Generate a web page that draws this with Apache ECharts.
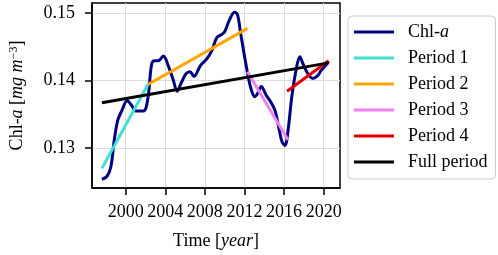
<!DOCTYPE html>
<html>
<head>
<meta charset="utf-8">
<script src="https://cdn.jsdelivr.net/npm/echarts@6/dist/echarts.min.js"></script>
<style>
  html, body { margin: 0; padding: 0; background: #fff; }
  #chart { width: 498px; height: 255px; }
</style>
</head>
<body>
<div id="chart"></div>
<script>
// chl-a series
var years = [1997.6, 1998.1, 1998.5, 1998.85, 1999.2, 1999.6, 2000.15, 2000.65, 2001.0, 2001.8,
  2002.25, 2002.6, 2002.9, 2003.3, 2003.8, 2004.3, 2004.8, 2005.2, 2005.6, 2006.1,
  2006.5, 2006.9, 2007.55, 2008.2, 2008.7, 2009.2, 2009.7, 2010.0, 2010.5, 2011.0,
  2011.3, 2011.6, 2012.1, 2012.6, 2013.05, 2013.3, 2013.7, 2014.2, 2014.7, 2015.1,
  2015.5, 2015.8, 2016.1, 2016.4, 2016.8, 2017.3, 2017.6, 2017.9, 2018.4, 2018.9,
  2019.4, 2019.7, 2020.2, 2020.5];
var chl = [0.1254, 0.1258, 0.1272, 0.1312, 0.1341, 0.1355, 0.1370, 0.1362, 0.1355, 0.1355,
  0.1374, 0.1422, 0.1429, 0.1429, 0.1436, 0.1422, 0.1401, 0.1384, 0.1396, 0.1410,
  0.1413, 0.1406, 0.1422, 0.1432, 0.1444, 0.1463, 0.1468, 0.1472, 0.1490, 0.1501,
  0.1497, 0.1471, 0.1428, 0.1391, 0.1376, 0.1380, 0.1391, 0.1378, 0.1367, 0.1355,
  0.1328, 0.1309, 0.1304, 0.1326, 0.1378, 0.1422, 0.1435, 0.1425, 0.1410, 0.1403,
  0.1407, 0.1414, 0.1422, 0.1428];

// trend lines: [start year, end year], [start value, end value]
var period1 = [[1997.6, 2002.25], [0.1270, 0.1394]];
var period2 = [[2002.25, 2012.3], [0.1394, 0.1477]];
var period3 = [[2012.3, 2016.4], [0.1413, 0.1312]];
var period4 = [[2016.3, 2020.5], [0.1384, 0.1429]];
var fullPeriod = [[1997.6, 2020.5], [0.1367, 0.1426]];

var xTicks = [2000, 2004, 2008, 2012, 2016, 2020];
var yTicks = [0.13, 0.14, 0.15];

var serif = 'Liberation Serif';

function pairs(xs, ys) {
  var out = [];
  for (var i = 0; i < xs.length; i++) out.push([xs[i], ys[i]]);
  return out;
}

function trend(name, p, color) {
  return {
    name: name,
    type: 'line',
    data: pairs(p[0], p[1]),
    showSymbol: false,
    symbol: 'none',
    lineStyle: { color: color, width: 3 },
    itemStyle: { color: color },
    z: 3
  };
}

var chart = echarts.init(document.getElementById('chart'));
chart.setOption({
  animation: false,
  textStyle: { fontFamily: serif },
  grid: {
    left: 82, right: 158, top: 3, bottom: 63,
    show: true, borderColor: '#000', borderWidth: 1.5
  },
  legend: {
    orient: 'vertical',
    left: 348, top: 16,
    itemWidth: 40, itemHeight: 3,
    itemGap: 6,
    padding: [6, 8, 7, 6],
    borderColor: '#ccc', borderWidth: 1, borderRadius: 4,
    icon: 'rect',
    data: ['Chl-a', 'Period 1', 'Period 2', 'Period 3', 'Period 4', 'Full period'],
    formatter: function (name) {
      return name === 'Chl-a' ? 'Chl-{i|a}' : name;
    },
    textStyle: {
      fontFamily: serif, fontSize: 18, color: '#000', lineHeight: 20,
      padding: [0, 0, 0, 9],
      rich: { i: { fontFamily: serif, fontSize: 18, fontStyle: 'italic', color: '#000' } }
    }
  },
  xAxis: {
    type: 'value',
    min: 1996.6, max: 2021.65,
    name: 'Time [{i|year}]',
    nameLocation: 'middle',
    nameGap: 44,
    nameTextStyle: {
      fontFamily: serif, fontSize: 18, color: '#000',
      rich: { i: { fontFamily: serif, fontSize: 18, fontStyle: 'italic', color: '#000' } }
    },
    axisLine: { lineStyle: { color: '#000', width: 1.5 } },
    axisTick: { show: true, customValues: xTicks, length: 7, lineStyle: { color: '#000', width: 1.5 } },
    axisLabel: {
      customValues: xTicks, margin: 15, hideOverlap: false,
      fontFamily: serif, fontSize: 18, color: '#000',
      formatter: function (v) { return String(Math.round(v)); }
    },
    splitLine: { show: true, lineStyle: { color: '#dcdcdc', width: 1 } }
  },
  yAxis: {
    type: 'value',
    min: 0.1241, max: 0.15145,
    name: 'Chl-{i|a} [{i|mg m}{s|−3}]',
    nameLocation: 'middle',
    nameRotate: 90,
    nameGap: 66,
    nameTextStyle: {
      fontFamily: serif, fontSize: 18, color: '#000',
      rich: {
        i: { fontFamily: serif, fontSize: 18, fontStyle: 'italic', color: '#000' },
        s: { fontFamily: serif, fontSize: 12, color: '#000', verticalAlign: 'top', lineHeight: 18 }
      }
    },
    axisLine: { lineStyle: { color: '#000', width: 1.5 } },
    axisTick: { show: true, customValues: yTicks, length: 7, lineStyle: { color: '#000', width: 1.5 } },
    axisLabel: {
      customValues: yTicks, margin: 17,
      fontFamily: serif, fontSize: 18, color: '#000',
      formatter: function (v) { return v.toFixed(2); }
    },
    splitLine: { show: true, lineStyle: { color: '#dcdcdc', width: 1 } }
  },
  series: [
    {
      name: 'Chl-a',
      type: 'line',
      data: pairs(years, chl),
      smooth: 0.35,
      showSymbol: false,
      symbol: 'none',
      lineStyle: { color: '#000080', width: 3 },
      itemStyle: { color: '#000080' },
      z: 2
    },
    trend('Period 1', period1, '#40e0d0'),
    trend('Period 2', period2, '#ffa500'),
    trend('Period 3', period3, '#ee82ee'),
    trend('Period 4', period4, '#e00000'),
    trend('Full period', fullPeriod, '#000000')
  ]
});
</script>
</body>
</html>
